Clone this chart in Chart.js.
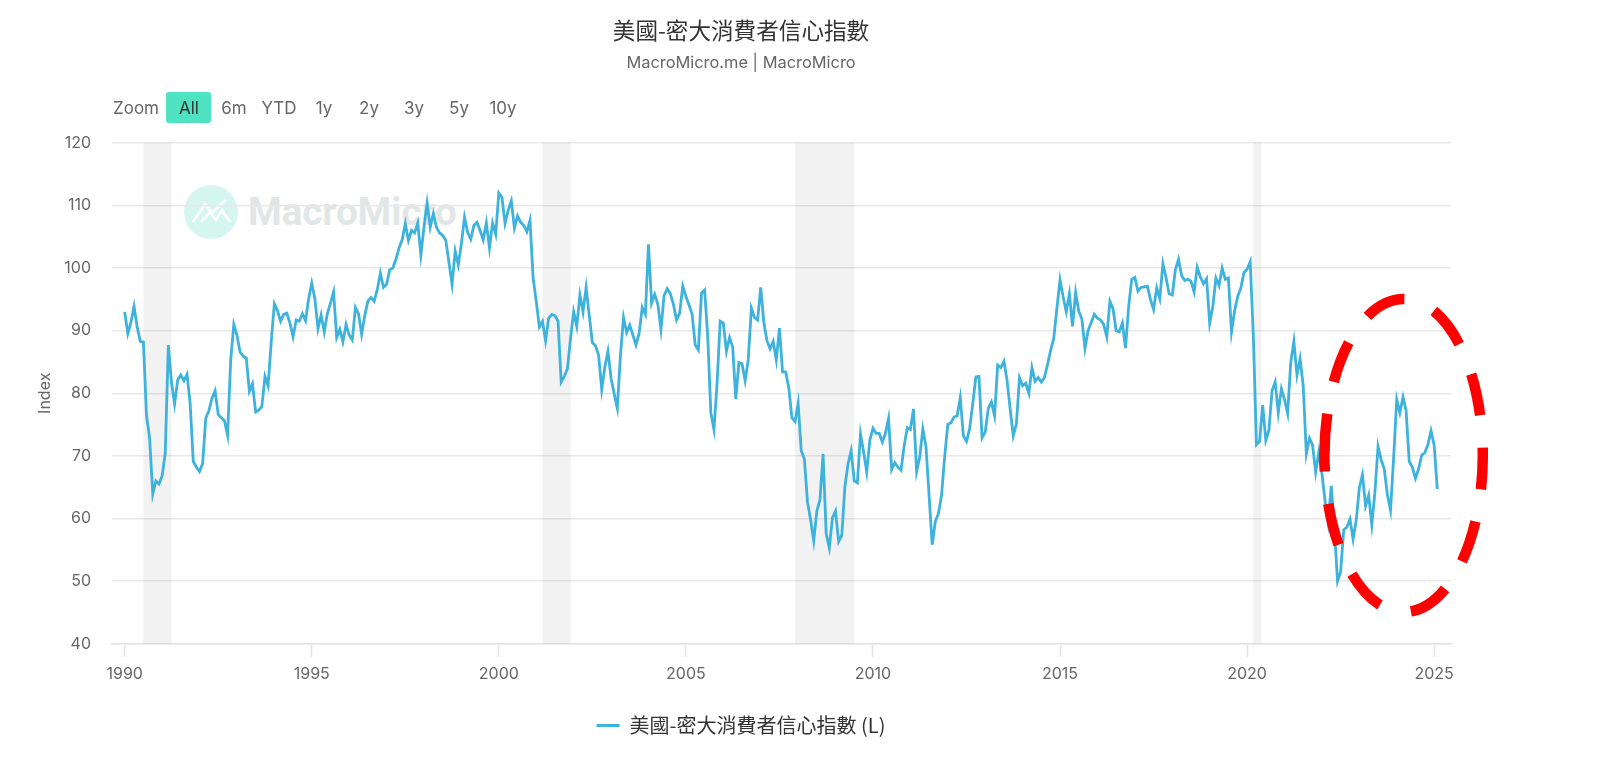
<!DOCTYPE html>
<html lang="zh-Hant">
<head>
<meta charset="utf-8">
<title>美國-密大消費者信心指數</title>
<script src="https://cdn.jsdelivr.net/npm/chart.js@4"></script>
<style>
html,body{margin:0;padding:0;background:#fff;width:1600px;height:761px;overflow:hidden}
#wrap{position:relative;width:1600px;height:761px}
#chart{position:absolute;left:0;top:0;z-index:2}
.rb{position:absolute;top:107.5px;transform:translate(-50%,-50%);font:17px Inter,"Liberation Sans",sans-serif;color:#666;white-space:nowrap;z-index:3}
#allBg{position:absolute;left:166px;top:92px;width:45px;height:31px;background:#50e3c2;border-radius:3px;z-index:1}
#wmText{position:absolute;left:248px;top:189px;font:700 38.5px/46px Roboto,sans-serif;color:#e2e6e6;z-index:1;white-space:nowrap}
#wmLogo{position:absolute;left:183px;top:184px;z-index:1}
</style>
</head>
<body>
<div id="wrap">
  <div id="allBg"></div>
  <svg id="wmLogo" width="56" height="56" viewBox="0 0 56 56">
    <circle cx="28" cy="28" r="27" fill="#d5f6ef"/>
    <polyline points="10,38 22,20 29,29 39,19 43,16" fill="none" stroke="#fff" stroke-width="2.6"/>
    <polyline points="18,38 27,28 33,36 39,26 47,38" fill="none" stroke="#fff" stroke-width="2.6"/>
  </svg>
  <div id="wmText">MacroMicro</div>
  <canvas id="chart" width="1600" height="761" style="width:1600px;height:761px"></canvas>
</div>
<script>
const chartTitle = "美國-密大消費者信心指數";
const chartSubtitle = "MacroMicro.me | MacroMicro";
const seriesName = "美國-密大消費者信心指數 (L)";
const yAxisTitle = "Index";
const rangeLabels = ["Zoom","All","6m","YTD","1y","2y","3y","5y","10y"];
const rangeCenters = [136,189,234,279,324,369,414,459,503];
const firstYear = 1990;
const tickYears = [1990,1995,2000,2005,2010,2015,2020,2025];
const y1990 = [93.0,89.5,91.3,93.9,90.6,88.3,88.2,76.4,72.8,63.9,66.0,65.5];
const y1991 = [66.8,70.4,87.7,81.8,78.3,82.1,82.9,82.0,83.0,78.3,69.1,68.2];
const y1992 = [67.5,68.8,76.0,77.2,79.2,80.4,76.6,76.1,75.6,73.3,85.3,91.0];
const y1993 = [89.3,86.6,85.9,85.6,80.3,81.5,77.0,77.3,77.9,82.7,81.2,88.2];
const y1994 = [94.3,93.2,91.5,92.6,92.8,91.2,89.0,91.7,91.5,92.7,91.6,95.1];
const y1995 = [97.6,95.1,90.3,92.5,89.8,92.7,94.4,96.2,88.9,90.2,88.2,91.0];
const y1996 = [89.3,88.5,93.7,92.7,89.4,92.4,94.7,95.3,94.7,96.5,99.2,96.9];
const y1997 = [97.4,99.7,100.0,101.4,103.2,104.5,107.1,104.4,106.0,105.6,107.2,102.1];
const y1998 = [106.6,110.4,106.5,108.7,106.5,105.6,105.2,104.4,100.9,97.4,102.7,100.5];
const y1999 = [103.9,108.1,105.7,104.6,106.8,107.3,106.0,104.5,107.2,103.2,107.2,105.4];
const y2000 = [112.0,111.3,107.1,109.2,110.7,106.4,108.3,107.3,106.8,105.8,107.6,98.4];
const y2001 = [94.7,90.6,91.5,88.4,92.0,92.6,92.4,91.5,81.8,82.7,83.9,88.8];
const y2002 = [93.0,90.7,95.7,93.0,96.9,92.4,88.1,87.6,86.1,80.6,84.2,86.7];
const y2003 = [82.4,79.9,77.6,86.0,92.1,89.7,90.9,89.3,87.7,89.6,93.7,92.6];
const y2004 = [103.8,94.4,95.8,94.2,90.2,95.6,96.7,95.9,94.2,91.7,92.8,97.1];
const y2005 = [95.5,94.1,92.6,87.7,86.9,96.0,96.5,89.1,76.9,74.2,81.6,91.5];
const y2006 = [91.2,86.7,88.9,87.4,79.1,84.9,84.7,82.0,85.4,93.6,92.1,91.7];
const y2007 = [96.9,91.3,88.4,87.1,88.3,85.3,90.4,83.4,83.4,80.9,76.1,75.5];
const y2008 = [78.4,70.8,69.5,62.6,59.8,56.4,61.2,63.0,70.3,57.6,55.3,60.1];
const y2009 = [61.2,56.3,57.3,65.1,68.7,70.8,66.0,65.7,73.5,70.6,67.4,72.5];
const y2010 = [74.4,73.6,73.6,72.2,73.6,76.0,67.8,68.9,68.2,67.7,71.6,74.5];
const y2011 = [74.2,77.5,67.5,69.8,74.3,71.5,63.7,55.8,59.5,60.8,63.7,69.9];
const y2012 = [75.0,75.3,76.2,76.4,79.3,73.2,72.3,74.3,78.3,82.6,82.7,72.9];
const y2013 = [73.8,77.6,78.6,76.4,84.5,84.1,85.1,82.1,77.5,73.2,75.1,82.5];
const y2014 = [81.2,81.6,80.0,84.1,81.9,82.5,81.8,82.5,84.6,86.9,88.8,93.6];
const y2015 = [98.1,95.4,93.0,95.9,90.7,96.1,93.1,91.9,87.2,90.0,91.3,92.6];
const y2016 = [92.0,91.7,91.0,89.0,94.7,93.5,90.0,89.8,91.2,87.2,93.8,98.2];
const y2017 = [98.5,96.3,96.9,97.0,97.1,95.0,93.4,96.8,95.1,100.7,98.5,95.9];
const y2018 = [95.7,99.7,101.4,98.8,98.0,98.2,97.9,96.2,100.1,98.6,97.5,98.3];
const y2019 = [91.2,93.8,98.4,97.2,100.0,98.2,98.4,89.8,93.2,95.5,96.8,99.3];
const y2020 = [99.8,101.0,89.1,71.8,72.3,78.1,72.5,74.1,80.4,81.8,76.9,80.7];
const y2021 = [79.0,76.8,84.9,88.3,82.9,85.5,81.2,70.3,72.8,71.7,67.4,70.6];
const y2022 = [67.2,62.8,59.4,65.2,58.4,50.0,51.5,58.2,58.6,59.9,56.7,59.7];
const y2023 = [64.9,67.0,62.0,63.7,59.0,64.2,71.5,69.4,67.9,63.8,61.3,69.7];
const y2024 = [79.0,76.9,79.4,77.2,69.1,68.2,66.4,67.9,70.1,70.5,71.8,74.0];
const y2025 = [71.7,64.7];
const recessionStart = [6,134,215,362];
const recessionEnd = [15,143,234,364.6];
const highlight = {month:410.2,value:70.05,monthRadius:25.4,valueRadius:25};

const sentiment = [].concat(y1990,y1991,y1992,y1993,y1994,y1995,y1996,y1997,y1998,y1999,y2000,y2001,y2002,y2003,y2004,y2005,y2006,y2007,y2008,y2009,y2010,y2011,y2012,y2013,y2014,y2015,y2016,y2017,y2018,y2019,y2020,y2021,y2022,y2023,y2024,y2025);

const wrap = document.getElementById("wrap");
rangeLabels.forEach((t,i)=>{
  const s=document.createElement("span");
  s.className="rb"; s.textContent=t; s.style.left=rangeCenters[i]+"px";
  if(t==="All") s.style.color="#333";
  wrap.appendChild(s);
});

const bandsAndRing = {
  id:"bandsAndRing",
  beforeDatasetsDraw(c){
    const {ctx,chartArea:a,scales:{x}}=c;
    ctx.save();
    ctx.fillStyle="rgba(0,0,0,0.05)";
    recessionStart.forEach((s,i)=>{
      const l=x.getPixelForValue(s), r=x.getPixelForValue(recessionEnd[i]);
      ctx.fillRect(l,a.top,r-l,a.bottom-a.top);
    });
    ctx.restore();
  },
  afterDatasetsDraw(c){
    const {ctx,scales:{x,y}}=c;
    const cx=x.getPixelForValue(highlight.month), cy=y.getPixelForValue(highlight.value);
    const rx=x.getPixelForValue(highlight.month+highlight.monthRadius)-cx;
    const ry=cy-y.getPixelForValue(highlight.value+highlight.valueRadius);
    ctx.save();
    ctx.strokeStyle="#ff0000";
    ctx.lineWidth=10.5;
    ctx.lineCap="butt";
    ctx.setLineDash([42,32.4]);
    ctx.beginPath();
    ctx.ellipse(cx,cy,rx,ry,0,Math.PI,3*Math.PI);
    ctx.stroke();
    ctx.restore();
  }
};

const fontLatin = 'Inter, "Liberation Sans", sans-serif';
const fontCjk = '"Noto Sans CJK TC", sans-serif';

new Chart(document.getElementById("chart"),{
  type:"line",
  data:{datasets:[{
    label:seriesName,
    data:sentiment.map((v,i)=>({x:i,y:v})),
    borderColor:"#3db2dd",
    backgroundColor:"#3db2dd",
    borderWidth:2.8,
    pointRadius:0,
    tension:0,
    borderJoinStyle:"miter"
  }]},
  options:{
    responsive:false,
    devicePixelRatio:1,
    animation:false,
    layout:{padding:{left:31,right:149,top:17,bottom:15.5}},
    plugins:{
      title:{display:true,text:chartTitle,color:"#333",font:{family:fontCjk,size:22.6,weight:"normal"},padding:{top:0,bottom:9.5}},
      subtitle:{display:true,text:chartSubtitle,color:"#666",font:{family:fontLatin,size:16.4,weight:"normal"},padding:{top:0,bottom:69.5}},
      legend:{display:true,position:"bottom",labels:{usePointStyle:true,pointStyle:"line",pointStyleWidth:23,color:"#333",font:{family:fontCjk,size:20},padding:10}},
      tooltip:{enabled:false}
    },
    scales:{
      x:{
        type:"linear",min:-4.07,max:425.4,
        afterBuildTicks(s){ s.ticks=tickYears.map(t=>({value:(t-firstYear)*12})); },
        afterFit(s){ s.height=61.8; },
        ticks:{autoSkip:false,maxRotation:0,minRotation:0,padding:8,color:"#666",font:{family:fontLatin,size:16},
          callback:v=>String(firstYear+v/12)},
        grid:{drawOnChartArea:false,drawTicks:true,tickLength:13,tickColor:"#e3e3e3",tickWidth:1.5},
        border:{display:true,color:"#e3e3e3",width:1.5}
      },
      y:{
        min:40,max:120,
        afterFit(s){ s.width=81; },
        ticks:{stepSize:10,padding:21,color:"#666",font:{family:fontLatin,size:16}},
        grid:{color:"#e8e8e8",lineWidth:1.5,drawTicks:false},
        border:{display:false},
        title:{display:true,text:yAxisTitle,color:"#666",font:{family:fontLatin,size:16},padding:{top:5,bottom:0}}
      }
    }
  },
  plugins:[bandsAndRing]
});
</script>
</body>
</html>
